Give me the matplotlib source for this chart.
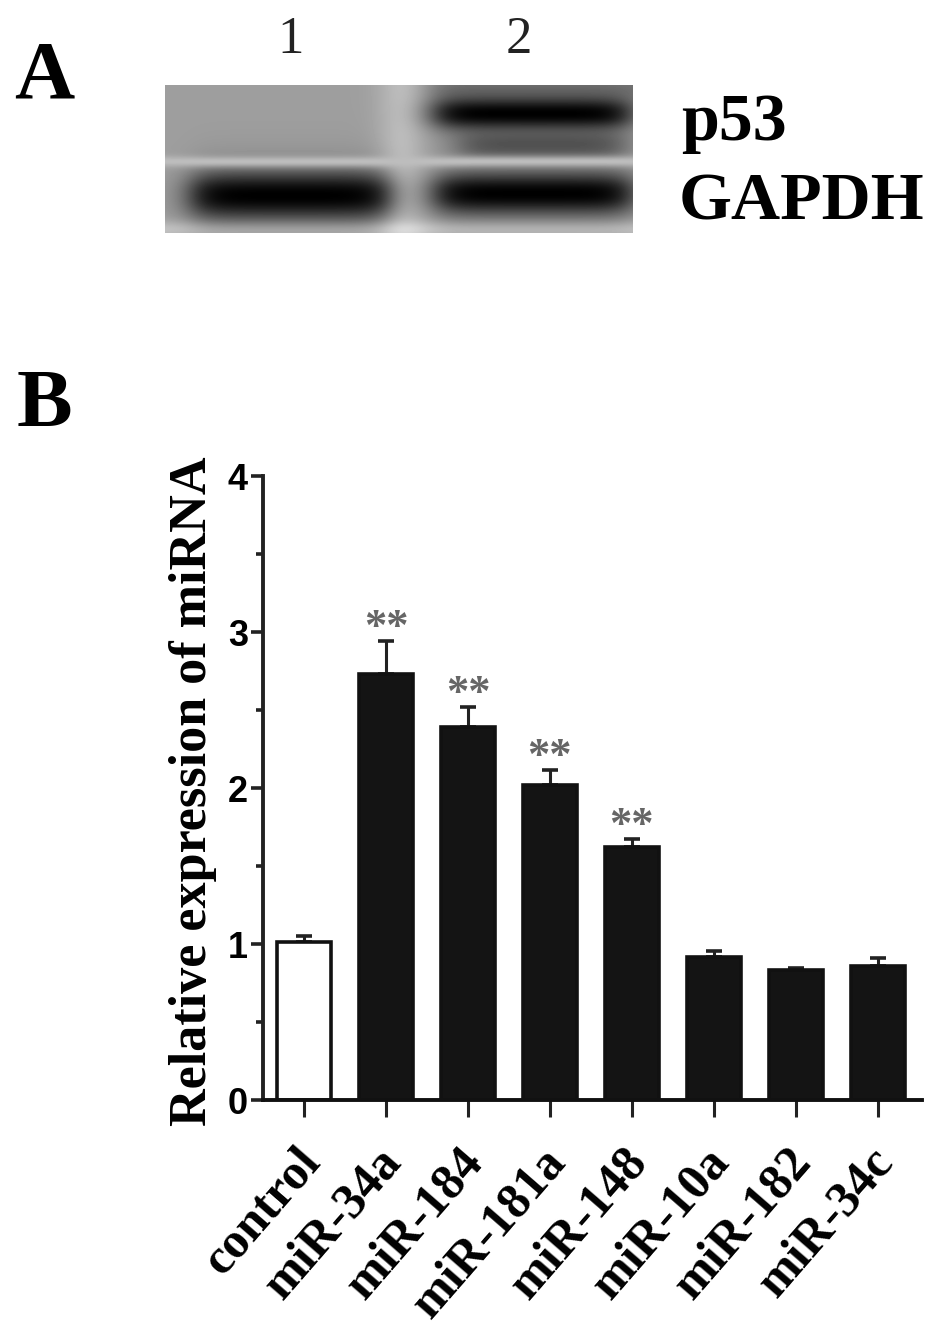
import numpy as np
import matplotlib
matplotlib.use('Agg')
import matplotlib.pyplot as plt
from matplotlib.transforms import ScaledTranslation

W, H = 945, 1334

labels = ['control', 'miR-34a', 'miR-184', 'miR-181a', 'miR-148', 'miR-10a', 'miR-182', 'miR-34c']
values = [1.01, 2.73, 2.39, 2.02, 1.625, 0.915, 0.835, 0.86]
errors = [0.04, 0.21, 0.13, 0.095, 0.045, 0.04, 0.01, 0.05]
stars = ['', '**', '**', '**', '**', '', '', '']
bar_colors = ['white'] + ['#141414'] * 7

# blot bands: x from, x to, y centre, half height, darkness (picture pixels of the blot)
blot_bands = [
    (272, 462, 28, 15, 1.0),
    (295, 458, 60, 14, 0.38),
    (28, 222, 110, 22, 1.0),
    (272, 464, 108, 19, 1.0),
]


def ax_px(x0, y0, x1, y1):
    # axes from pixel corners, y counted from the top
    return fig.add_axes([x0 / W, 1 - y1 / H, (x1 - x0) / W, (y1 - y0) / H])


def make_blot():
    h, w = 148, 468
    yy, xx = np.mgrid[0:h, 0:w]
    img = np.full((h, w), 0.62)
    # светлая полоса между дорожками
    img += 0.12 * np.exp(-((xx - 236) / 24.0) ** 2)
    right_side = 0.5 * (1 + np.tanh((xx - 265) / 18.0))
    img -= 0.16 * np.exp(-((yy - 2) / 16.0) ** 2) * right_side
    img += 0.14 * np.exp(-((yy - 144) / 9.0) ** 2)
    for x0, x1, yc, hh, dark in blot_bands:
        mask_x = 0.5 * (np.tanh((xx - x0) / 20.0) - np.tanh((xx - x1) / 20.0))
        mask_y = np.exp(-(np.abs(yy - yc) / hh) ** 2.2)
        halo_y = np.exp(-((yy - yc) / (hh * 1.7)) ** 2)
        img = img * (1 - dark * mask_x * mask_y)
        img = img * (1 - 0.25 * dark * mask_x * halo_y)
    # separator
    img = img + (0.74 - img) * np.exp(-((yy - 76) / 5.5) ** 2)
    return np.clip(img, 0, 1)


fig = plt.figure(figsize=(W / 100, H / 100), dpi=100)
plt.rcParams['font.family'] = ['Liberation Serif', 'DejaVu Serif']

# panel A
ax_blot = ax_px(165, 85, 633, 233)
ax_blot.imshow(make_blot(), cmap='gray', vmin=0, vmax=1, aspect='auto')
ax_blot.axis('off')

fig.text(14 / W, 1 - 98 / H, 'A', fontsize=60, fontweight='bold', ha='left', va='baseline')
fig.text(17 / W, 1 - 426 / H, 'B', fontsize=60, fontweight='bold', ha='left', va='baseline')
fig.text(291 / W, 1 - 53 / H, '1', fontsize=38, ha='center', va='baseline', color='#222222')
fig.text(519 / W, 1 - 53 / H, '2', fontsize=38, ha='center', va='baseline', color='#222222')
fig.text(681 / W, 1 - 140 / H, 'p53', fontsize=49, fontweight='bold', ha='left', va='baseline')
fig.text(679 / W, 1 - 220 / H, 'GAPDH', fontsize=49, fontweight='bold', ha='left', va='baseline')

# panel B
ax = ax_px(263, 476, 922, 1100)
x = np.arange(len(labels))
ax.bar(x, values, width=0.66, color=bar_colors, edgecolor='#111111', linewidth=2.6, zorder=2)
ax.errorbar(x, values, yerr=[np.zeros(len(x)), errors], fmt='none', ecolor='#222222',
            elinewidth=2.2, capsize=6, capthick=2.6, zorder=1)

for i, s in enumerate(stars):
    if s:
        ax.annotate(s, (x[i], values[i] + errors[i]), xytext=(0, -5), textcoords='offset points',
                    ha='center', va='bottom', fontsize=32, color='#666666',
                    family='Liberation Serif', fontweight='bold')

ax.set_xlim(-0.5, 7.54)
ax.set_ylim(0, 4)
ax.spines['top'].set_visible(False)
ax.spines['right'].set_visible(False)
ax.spines['left'].set_linewidth(2.8)
ax.spines['bottom'].set_linewidth(2.8)
ax.spines['left'].set_color('#222222')
ax.spines['bottom'].set_color('#111111')

ax.set_yticks([0, 1, 2, 3, 4])
ax.set_yticks([0.5, 1.5, 2.5, 3.5], minor=True)
ax.set_yticklabels(['0', '1', '2', '3', '4'], family='Liberation Sans', fontweight='bold', fontsize=26)
ax.tick_params(axis='y', which='major', length=9, width=2.6, pad=2, color='#222222')
ax.tick_params(axis='y', which='minor', length=5, width=2.6, color='#222222')

ax.set_xticks(x)
ax.set_xticklabels(labels, rotation=49, ha='right', rotation_mode='anchor', va='center',
                   fontsize=36, fontweight='bold')
ax.tick_params(axis='x', length=12, width=2.2, pad=27, color='#222222')
shift = ScaledTranslation(8 / 100, 0, fig.dpi_scale_trans)
for t in ax.get_xticklabels():
    t.set_transform(t.get_transform() + shift)

ax.set_ylabel('Relative expression of miRNA', fontsize=37.5, fontweight='bold')
ax.yaxis.set_label_coords(-46 / 659, 0.495)

fig.savefig('out.png', dpi=100)
